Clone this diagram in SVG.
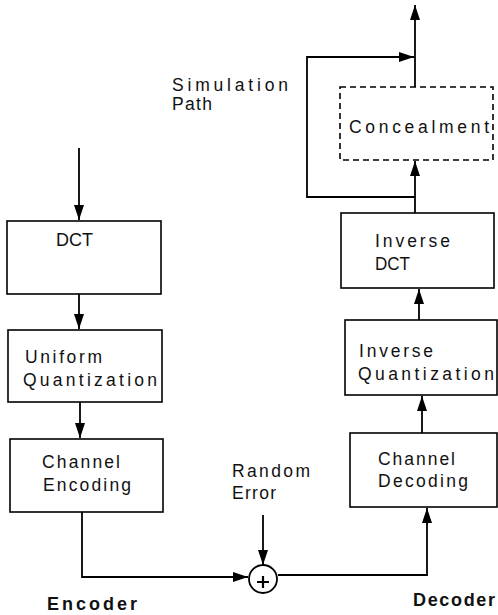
<svg xmlns="http://www.w3.org/2000/svg" width="498" height="615" viewBox="0 0 498 615">
<defs>
<marker id="ah" viewBox="0 0 15 10" refX="15" refY="5" markerWidth="15" markerHeight="10" orient="auto" markerUnits="userSpaceOnUse"><path d="M0,0 L15,5 L0,10 z" fill="#000"/></marker>
<style>
.box{fill:#fff;stroke:#000;stroke-width:1.6}
.dash{fill:#fff;stroke:#000;stroke-width:1.6;stroke-dasharray:6 4}
.ln{fill:none;stroke:#000;stroke-width:1.8}
.t{font-family:"Liberation Sans",Arial,sans-serif;font-size:17.5px;fill:#111}
.b{font-family:"Liberation Sans",Arial,sans-serif;font-size:18px;font-weight:bold;fill:#111}
</style>
</defs>
<rect width="498" height="615" fill="#fff"/>
<g id="connectors">
<path class="ln" d="M79,148 L79,220" marker-end="url(#ah)"/>
<path class="ln" d="M79,294 L79,329" marker-end="url(#ah)"/>
<path class="ln" d="M80,402 L80,438" marker-end="url(#ah)"/>
<path class="ln" d="M82,512 L82,577 L248,577" marker-end="url(#ah)"/>
<path class="ln" d="M263,515 L263,565" marker-end="url(#ah)"/>
<path class="ln" d="M278,575 L427,575 L427,508" marker-end="url(#ah)"/>
<path class="ln" d="M422,433 L422,396" marker-end="url(#ah)"/>
<path class="ln" d="M419,320 L419,289" marker-end="url(#ah)"/>
<path class="ln" d="M415,213 L415,161" marker-end="url(#ah)"/>
<path class="ln" d="M415,87 L415,5" marker-end="url(#ah)"/>
<path class="ln" d="M415,197 L307,197 L307,57 L414,57" marker-end="url(#ah)"/>
</g>
<g id="dct">
<rect class="box" x="7" y="221" width="154" height="73"/>
<text class="t" x="56" y="246" textLength="37" lengthAdjust="spacingAndGlyphs">DCT</text>
</g>
<g id="uniform-quantization">
<rect class="box" x="8" y="330" width="154" height="72"/>
<text class="t" x="25" y="363" textLength="77" lengthAdjust="spacing">Uniform</text>
<text class="t" x="23" y="386" textLength="134" lengthAdjust="spacing">Quantization</text>
</g>
<g id="channel-encoding">
<rect class="box" x="10" y="439" width="153" height="73"/>
<text class="t" x="42" y="468" textLength="78" lengthAdjust="spacing">Channel</text>
<text class="t" x="43" y="491" textLength="88" lengthAdjust="spacing">Encoding</text>
</g>
<g id="adder">
<circle cx="263" cy="579" r="14" fill="#fff" stroke="#000" stroke-width="1.8"/>
<path d="M257,582 L269,582 M263,576 L263,588" stroke="#000" stroke-width="2.2"/>
</g>
<g id="random-error">
<text class="t" x="232" y="477" textLength="78" lengthAdjust="spacing">Random</text>
<text class="t" x="232" y="499" textLength="44" lengthAdjust="spacing">Error</text>
</g>
<g id="channel-decoding">
<rect class="box" x="350" y="433" width="147" height="74"/>
<text class="t" x="378" y="465" textLength="77" lengthAdjust="spacing">Channel</text>
<text class="t" x="378" y="487" textLength="90" lengthAdjust="spacing">Decoding</text>
</g>
<g id="inverse-quantization">
<rect class="box" x="345" y="320" width="152" height="75"/>
<text class="t" x="359" y="357" textLength="74" lengthAdjust="spacing">Inverse</text>
<text class="t" x="358" y="380" textLength="136" lengthAdjust="spacing">Quantization</text>
</g>
<g id="inverse-dct">
<rect class="box" x="341" y="213" width="153" height="75"/>
<text class="t" x="375" y="247" textLength="75" lengthAdjust="spacing">Inverse</text>
<text class="t" x="375" y="270" textLength="35" lengthAdjust="spacingAndGlyphs">DCT</text>
</g>
<g id="concealment">
<rect class="dash" x="340" y="87" width="153" height="73"/>
<text class="t" x="349" y="133" textLength="140" lengthAdjust="spacing">Concealment</text>
</g>
<g id="simulation-path">
<text class="t" x="172" y="91" textLength="116" lengthAdjust="spacing">Simulation</text>
<text class="t" x="172" y="110" textLength="40" lengthAdjust="spacing">Path</text>
</g>
<g id="labels">
<text class="b" x="47" y="610" textLength="90" lengthAdjust="spacing">Encoder</text>
<text class="b" x="413" y="606" textLength="82" lengthAdjust="spacing">Decoder</text>
</g>
</svg>
